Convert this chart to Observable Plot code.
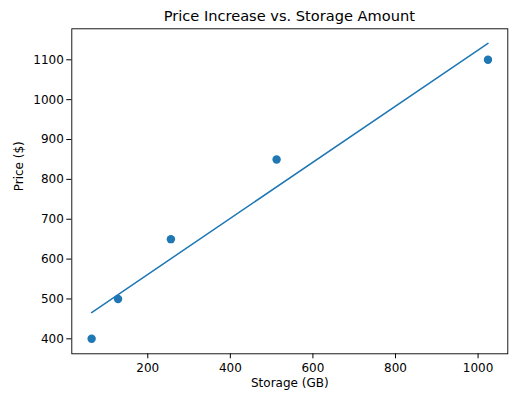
<!DOCTYPE html>
<html>
<head>
<meta charset="utf-8">
<script src="https://cdn.jsdelivr.net/npm/d3@7"></script>
<script src="https://cdn.jsdelivr.net/npm/@observablehq/plot@0.6"></script>
<style>
  html, body { margin: 0; padding: 0; background: white; }
  body { position: relative; width: 530px; height: 402px; overflow: hidden; font-family: "DejaVu Sans", sans-serif; }
  #title { position: absolute; z-index: 2; left: 71.3px; width: 436px; top: 0; line-height: 32px; height: 32px; text-align: center; font-size: 14.6px; color: #000; }
  #chart { position: absolute; z-index: 1; left: 0; top: 0; }
</style>
</head>
<body>
<div id="title">Price Increase vs. Storage Amount</div>
<div id="chart"></div>
<script>
const storage = [64, 128, 256, 512, 1024];
const price = [400, 500, 650, 850, 1100];
const xTicks = [200, 400, 600, 800, 1000];
const yTicks = [400, 500, 600, 700, 800, 900, 1000, 1100];
const xLabel = "Storage (GB)";
const yLabel = "Price ($)";

const data = storage.map((s, i) => ({storage: s, price: price[i]}));
const blue = "#1f77b4";

const chart = Plot.plot({
  width: 530,
  height: 402,
  marginTop: 28.3,
  marginBottom: 48.7,
  marginLeft: 71.3,
  marginRight: 22.7,
  style: {fontFamily: "DejaVu Sans, sans-serif", fontSize: "12px", color: "#000", background: "transparent"},
  x: {domain: [16, 1072], ticks: xTicks, tickFormat: "d", label: null, tickSize: 5, tickPadding: 5},
  y: {domain: [362.4, 1177.8], ticks: yTicks, tickFormat: "d", label: null, tickSize: 5, tickPadding: 3},
  marks: [
    Plot.linearRegressionY(data, {x: "storage", y: "price", stroke: blue, strokeWidth: 1.5, ci: 0}),
    Plot.dot(data, {x: "storage", y: "price", r: 4.2, fill: blue, stroke: "none"}),
    Plot.frame({stroke: "#000", strokeWidth: 0.9}),
    Plot.text([xLabel], {text: d => d, frameAnchor: "bottom", dy: 33.5, fontSize: 12, fill: "#000"}),
    Plot.text([yLabel], {text: d => d, frameAnchor: "left", dx: -53, rotate: -90, fontSize: 12, fill: "#000"})
  ]
});
document.getElementById("chart").appendChild(chart);
</script>
</body>
</html>
